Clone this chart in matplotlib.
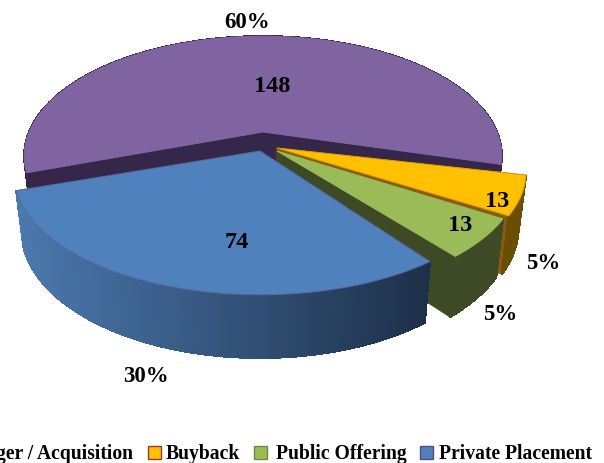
import numpy as np
import matplotlib
matplotlib.use('Agg')
import matplotlib.pyplot as plt
from matplotlib.colors import to_rgb
from matplotlib.patches import Polygon, Rectangle

# data, clockwise from the right hand edge of the purple slice
categories = ['Buyback', 'Public Offering', 'Private Placement', 'Merger / Acquisition']
values = [13, 13, 74, 148]
top_colors = ['#FFC000', '#9BBB59', '#4F81BD', '#8064A2']

# where each exploded slice sits (pixels) and how wide it looks
apex_x = [277, 277, 260, 263]
apex_y = [149, 152, 152, 133]
radius_x = [244, 238, 241, 234]
twist = [0, 0, -3, -2.5]
edge_colors = ['#E0A000', '#9BBB59', '#5A68A0', '#8064A2']
wall_left = ['#6b4f00', '#3f4b27', '#4b78ae', '#34274a']
wall_right = ['#6b4f00', '#3f4b27', '#1d3049', '#34274a']
side_colors = ['#8a5a10', '#3d4a25', '#1d3049', '#34274a']

radius_y = 115
persp = 0.2
depth = 54
shrink = 0.97
start_angle = -13

fig = plt.figure(figsize=(6.04, 4.64), dpi=100)
ax = fig.add_axes([0, 0, 1, 1])
ax.set_xlim(0, 604)
ax.set_ylim(464, 0)
ax.axis('off')


def top_point(i, theta):
    t = np.radians(theta)
    w = 1 + persp * np.sin(t)
    return (apex_x[i] + radius_x[i] * np.cos(t) / w,
            apex_y[i] - radius_y * np.sin(t) / w)


def bottom_point(i, theta):
    t = np.radians(theta)
    w = 1 + persp * np.sin(t)
    x, y = top_point(i, theta)
    return (apex_x[i] + (x - apex_x[i]) * shrink,
            apex_y[i] + (y - apex_y[i]) * shrink + depth / w)


def draw_slice(i, a1, a2, z):
    # a1 > a2, going clockwise
    angles = np.linspace(a1, a2, 240)

    # the two flat sides
    base = (apex_x[i], apex_y[i])
    base_low = (apex_x[i], apex_y[i] + depth)
    for a in (a1, a2):
        ax.add_patch(Polygon([base, top_point(i, a), bottom_point(i, a), base_low],
                             fc=side_colors[i], ec=side_colors[i], lw=0.5, zorder=z))

    # round wall, in strips so it can be shaded
    c1 = np.array(to_rgb(wall_left[i]))
    c2 = np.array(to_rgb(wall_right[i]))
    xs = [top_point(i, a)[0] for a in angles]
    for k in range(len(angles) - 1):
        a, b = angles[k], angles[k + 1]
        f = (xs[k] - min(xs)) / (max(xs) - min(xs))
        col = c1 + (c2 - c1) * f
        ax.add_patch(Polygon([top_point(i, a), top_point(i, b), bottom_point(i, b), bottom_point(i, a)],
                             fc=col, ec=col, lw=0.8, antialiased=False, zorder=z + 0.1))

    # top face
    pts = [base] + [top_point(i, a) for a in angles]
    ax.add_patch(Polygon(pts, fc=top_colors[i], ec=edge_colors[i], lw=0.7, zorder=z + 0.2))


total = sum(values)
ang = start_angle
order = [3, 0, 1, 2]
spans = []
for i, v in enumerate(values):
    span = v / total * 360
    spans.append((ang + twist[i], ang - span + twist[i]))
    ang -= span

for i in order:
    draw_slice(i, spans[i][0], spans[i][1], 2 + order.index(i))

font = dict(family='Liberation Serif', weight='bold', color='black', ha='center', va='center', zorder=20)

# value labels
value_pos = [(497, 202), (460, 226), (237, 243), (272, 86)]
for v, p in zip(values, value_pos):
    ax.text(p[0], p[1], str(v), fontsize=17.5, **font)

# percent labels
pct_pos = [(543, 264), (500, 315), (146, 377), (247, 22)]
for v, p in zip(values, pct_pos):
    ax.text(p[0], p[1], '%d%%' % round(v / total * 100), fontsize=16.5, **font)

# legend, runs off both sides like the original
swatch_x = [148, 254, 420, -20]
text_right = [240, 407, 592, 133]
swatch_edge = ['#953735', '#71893F', '#5A4A8A', '#5A4A8A']
for i in range(4):
    ax.add_patch(Rectangle((swatch_x[i], 447), 13, 13, fc=top_colors[i], ec=swatch_edge[i], lw=1, zorder=20))
    ax.text(text_right[i], 454, categories[i], fontsize=14.1, family='Liberation Serif', weight='bold',
            ha='right', va='center', zorder=20)

fig.savefig('out.png', dpi=100)
